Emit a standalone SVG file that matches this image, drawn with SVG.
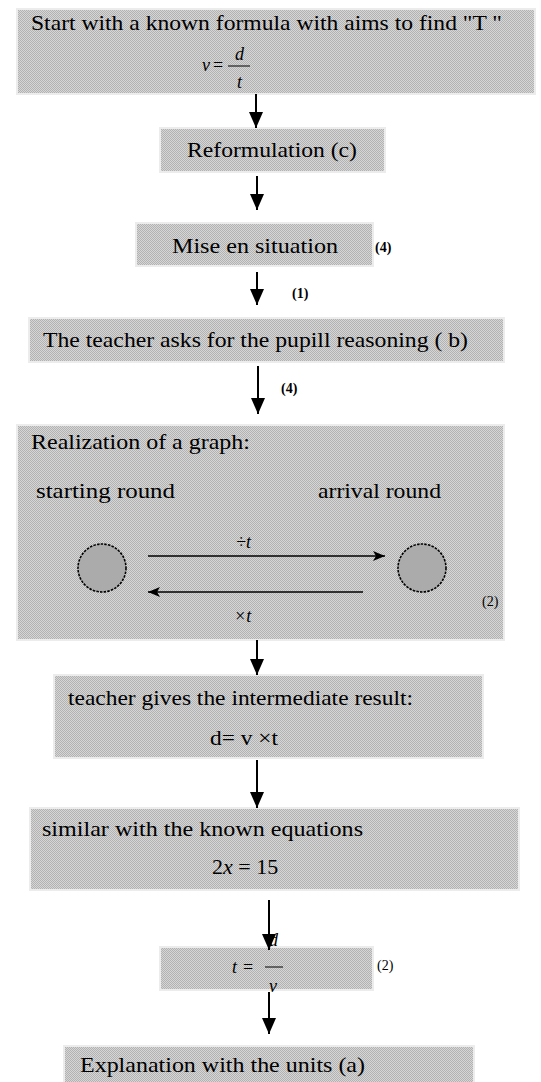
<svg xmlns="http://www.w3.org/2000/svg" width="541" height="1082" viewBox="0 0 541 1082">
<defs>
<pattern id="dither" width="2" height="2" patternUnits="userSpaceOnUse">
<rect width="2" height="2" fill="#d6d6d6"/>
<rect x="0" y="0" width="1" height="1" fill="#b2b2b2"/>
<rect x="1" y="1" width="1" height="1" fill="#b2b2b2"/>
</pattern>
<marker id="head" viewBox="0 0 16 14" refX="16" refY="7" markerWidth="16" markerHeight="14" markerUnits="userSpaceOnUse" orient="auto">
<path d="M0,0 L16,7 L0,14 Z" fill="#000"/>
</marker>
<marker id="small" viewBox="0 0 12 10" refX="12" refY="5" markerWidth="12" markerHeight="10" markerUnits="userSpaceOnUse" orient="auto">
<path d="M0,0 L12,5 L0,10 L3,5 Z" fill="#000"/>
</marker>
</defs>
<style>
.box{fill:url(#dither);stroke:#ececec;stroke-width:2}
.t{font-family:"Liberation Serif","Times New Roman",serif;font-size:22px;fill:#000}
.m{font-family:"Liberation Serif","Times New Roman",serif;font-style:italic;font-size:18px;fill:#000}
.n{font-family:"Liberation Serif","Times New Roman",serif;font-size:14px;font-weight:bold;fill:#000}
.c{fill:#ababab;stroke:#000;stroke-width:1.6;stroke-dasharray:2.5 1.2}
.flow{stroke:#000;stroke-width:2;fill:none}
.thin{stroke:#000;stroke-width:1.5;fill:none}
</style>
<rect width="541" height="1082" fill="#fff"/>

<g id="n1">
<rect class="box" x="17" y="9" width="518" height="85"/>
<text class="t" x="31" y="30" textLength="471" lengthAdjust="spacingAndGlyphs">Start with a known formula with aims to find "T "</text>
<text class="m" x="202" y="71">ν</text>
<text class="t" x="213" y="71" style="font-size:18px">=</text>
<line x1="228" y1="66" x2="250" y2="66" stroke="#000" stroke-width="1"/>
<text class="m" x="235" y="60">d</text>
<text class="m" x="237" y="88">t</text>
</g>

<g id="n2">
<rect class="box" x="160" y="128" width="225" height="44"/>
<text class="t" x="187" y="157" textLength="170" lengthAdjust="spacingAndGlyphs">Reformulation (c)</text>
</g>

<g id="n3">
<rect class="box" x="136" y="223" width="237" height="43"/>
<text class="t" x="172" y="253" textLength="166" lengthAdjust="spacingAndGlyphs">Mise en situation</text>
</g>
<text class="n" x="375" y="252">(4)</text>

<g id="n4">
<rect class="box" x="29" y="318" width="475" height="44"/>
<text class="t" x="43" y="347" textLength="425" lengthAdjust="spacingAndGlyphs">The teacher asks for the pupill reasoning ( b)</text>
</g>

<g id="n5">
<rect class="box" x="17" y="425" width="487" height="215"/>
<text class="t" x="31" y="449" textLength="219" lengthAdjust="spacingAndGlyphs">Realization of a graph:</text>
<text class="t" x="36" y="498" textLength="139" lengthAdjust="spacingAndGlyphs">starting  round</text>
<text class="t" x="318" y="498" textLength="123" lengthAdjust="spacingAndGlyphs">arrival round</text>
<circle class="c" cx="102" cy="568" r="24"/>
<circle class="c" cx="422" cy="568" r="24"/>
<line class="thin" x1="148" y1="556" x2="385" y2="556" marker-end="url(#small)"/>
<line class="thin" x1="363" y1="592" x2="148" y2="592" marker-end="url(#small)"/>
<text class="m" x="236" y="548">÷t</text>
<text class="m" x="234" y="622">×t</text>
<text class="n" x="482" y="606" style="font-weight:normal">(2)</text>
</g>

<g id="n6">
<rect class="box" x="54" y="675" width="429" height="83"/>
<text class="t" x="68" y="705" textLength="345" lengthAdjust="spacingAndGlyphs">teacher gives the intermediate result:</text>
<text class="t" x="210" y="745" textLength="68" lengthAdjust="spacingAndGlyphs">d= v ×t</text>
</g>

<g id="n7">
<rect class="box" x="30" y="808" width="489" height="82"/>
<text class="t" x="42" y="836" textLength="321" lengthAdjust="spacingAndGlyphs">similar with the known equations</text>
<text class="t" x="212" y="874">2<tspan font-style="italic">x</tspan> = 15</text>
</g>

<g id="n8">
<rect class="box" x="160" y="947" width="213" height="43"/>
<text class="m" x="232" y="973">t</text>
<text class="t" x="243" y="973" style="font-size:18px">=</text>
<line x1="265" y1="967" x2="283" y2="967" stroke="#000" stroke-width="1"/>
<text class="m" x="269" y="946">d</text>
<text class="m" x="269" y="992">ν</text>
</g>
<text class="n" x="377" y="970" style="font-weight:normal">(2)</text>

<g id="n9">
<rect class="box" x="64" y="1046" width="410" height="40"/>
<text class="t" x="80" y="1072" textLength="285" lengthAdjust="spacingAndGlyphs">Explanation with the units (a)</text>
</g>

<g id="connectors">
<line class="flow" x1="256" y1="94" x2="256" y2="128" marker-end="url(#head)"/>
<line class="flow" x1="257" y1="176" x2="257" y2="210" marker-end="url(#head)"/>
<line class="flow" x1="257" y1="272" x2="257" y2="305" marker-end="url(#head)"/>
<line class="flow" x1="258" y1="366" x2="258" y2="414" marker-end="url(#head)"/>
<line class="flow" x1="257" y1="640" x2="257" y2="675" marker-end="url(#head)"/>
<line class="flow" x1="257" y1="760" x2="257" y2="808" marker-end="url(#head)"/>
<line class="flow" x1="269" y1="900" x2="269" y2="950" marker-end="url(#head)"/>
<line class="flow" x1="269" y1="992" x2="269" y2="1034" marker-end="url(#head)"/>
<text class="n" x="292" y="298">(1)</text>
<text class="n" x="281" y="393">(4)</text>
</g>
</svg>
